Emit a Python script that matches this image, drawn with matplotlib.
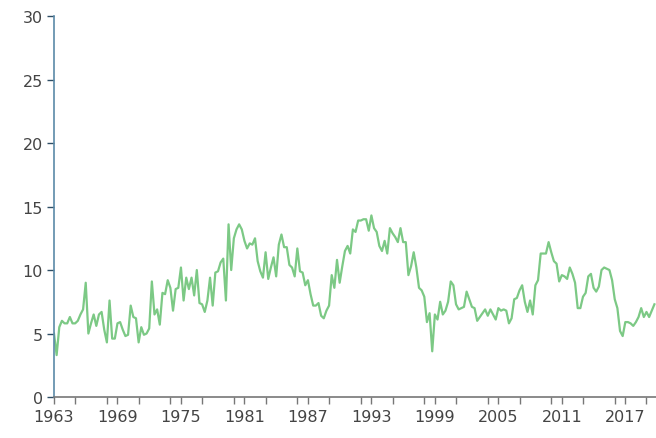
import numpy as np
import matplotlib
matplotlib.use('Agg')
import matplotlib.pyplot as plt
from matplotlib.ticker import MultipleLocator

# quarterly values, 1963 Q1 onwards
vals_1963 = [5.0, 3.3, 5.5, 6.0, 5.8, 5.8, 6.3, 5.8, 5.8, 6.0, 6.5, 6.9, 9.0, 5.0,
             5.8, 6.5, 5.6, 6.5, 6.7, 5.3, 4.3, 7.6, 4.6, 4.6, 5.8, 5.9, 5.3, 4.8,
             4.9, 7.2, 6.3, 6.2, 4.3, 5.5, 4.9, 5.0, 5.4, 9.1]
vals_1972 = [6.5, 6.9, 5.7, 8.2, 8.1, 9.2, 8.6, 6.8, 8.5, 8.6, 10.2, 7.6, 9.4, 8.5,
             9.4, 8.0, 10.0, 7.4, 7.3, 6.7, 7.6, 9.4, 7.2, 9.8, 9.9, 10.6, 10.9, 7.6,
             13.6, 10.0, 12.5, 13.2, 13.6, 13.2]
vals_1981 = [12.3, 11.7, 12.1, 12.0, 12.5, 10.7, 9.9, 9.4, 11.4, 9.3, 10.2, 11.0, 9.5,
             12.0, 12.8, 11.8, 11.8, 10.4, 10.2, 9.5, 11.7, 9.9, 9.8, 8.8, 9.2, 8.1,
             7.2, 7.2, 7.4, 6.4, 6.2, 6.8, 7.2, 9.6, 8.6, 10.8, 9.0, 10.3, 11.5, 11.9]
vals_1991 = [11.3, 13.2, 13.0, 13.9, 13.9, 14.0, 14.0, 13.1, 14.3, 13.3, 13.0, 11.9,
             11.5, 12.3, 11.3, 13.3, 12.9, 12.6, 12.2, 13.3, 12.2, 12.2, 9.6, 10.3,
             11.4, 10.2, 8.6, 8.4, 7.9, 5.9, 6.6, 3.6, 6.5, 6.1, 7.5, 6.5, 6.8, 7.5]
vals_2001 = [9.1, 8.8, 7.3, 6.9, 7.0, 7.1, 8.3, 7.7, 7.1, 7.0, 6.0, 6.3, 6.6, 6.9,
             6.4, 6.9, 6.5, 6.1, 7.0, 6.8, 6.9, 6.8, 5.8, 6.2, 7.7, 7.8, 8.4, 8.8,
             7.5, 6.7, 7.6, 6.5, 8.8, 9.2, 11.3, 11.3, 11.3, 12.2]
vals_2010 = [11.4, 10.7, 10.5, 9.1, 9.6, 9.5, 9.3, 10.2, 9.7, 9.0, 7.0, 7.0, 7.9,
             8.2, 9.5, 9.7, 8.6, 8.3, 8.7, 10.0, 10.2, 10.1, 10.0, 9.2, 7.7, 7.0,
             5.2, 4.8, 5.9, 5.9, 5.8, 5.6, 5.9, 6.3, 7.0, 6.3, 6.7, 6.3, 6.8, 7.3]

values = vals_1963 + vals_1972 + vals_1981 + vals_1991 + vals_2001 + vals_2010
start_year = 1963
years = start_year + np.arange(len(values)) / 4.0
year_labels = list(range(1963, 2018, 6))

fig = plt.figure(figsize=(6.56, 4.39), dpi=100)
ax = fig.add_axes([0.0823, 0.0934, 0.9177, 0.8676])

ax.plot(years, values, color='#7cc985', linewidth=1.6, clip_on=True)

ax.set_xlim(1963, 2019.9)
ax.set_ylim(0, 30)
ax.set_xticks(year_labels)
ax.set_xticklabels([str(y) for y in year_labels])
ax.xaxis.set_minor_locator(MultipleLocator(3))
ax.yaxis.set_major_locator(MultipleLocator(5))

for s in ['top', 'right']:
    ax.spines[s].set_visible(False)
ax.spines['left'].set_color('#5b8aa8')
ax.spines['bottom'].set_color('#777777')
ax.spines['left'].set_linewidth(1.2)
ax.spines['bottom'].set_linewidth(1.2)

ax.tick_params(axis='y', colors='#2f4f66', labelcolor='#444444', length=5,
               width=1, labelsize=11.5, pad=3)
ax.tick_params(axis='x', which='both', colors='#777777', labelcolor='#444444',
               length=5, width=1, labelsize=11.5, pad=4)
ax.tick_params(axis='x', which='minor', length=5)

fig.savefig('out.png', dpi=100)
